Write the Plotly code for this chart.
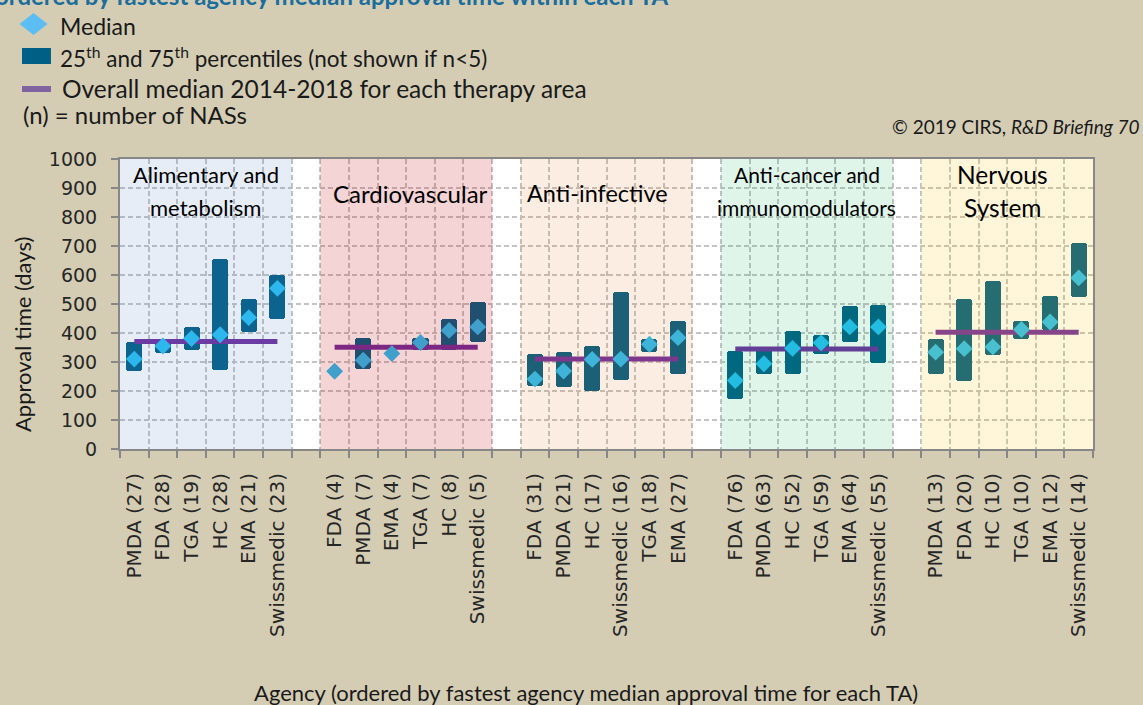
import plotly.graph_objects as go

# ---------------- data ----------------
group_lines = [["Alimentary and", "metabolism"], ["Cardiovascular"], ["Anti-infective"],
               ["Anti-cancer and", "immunomodulators"], ["Nervous", "System"]]

agencies_alim = ["PMDA (27)", "FDA (28)", "TGA (19)", "HC (28)", "EMA (21)", "Swissmedic (23)"]
median_alim = [310, 355, 381, 394, 453, 554]
p25_alim = [268, 330, 340, 272, 404, 449]
p75_alim = [369, 378, 419, 654, 517, 599]
overall_alim = 371

agencies_cardio = ["FDA (4)", "PMDA (7)", "EMA (4)", "TGA (7)", "HC (8)", "Swissmedic (5)"]
median_cardio = [268, 306, 329, 367, 409, 421]
p25_cardio = [None, 275, None, 340, 340, 369]
p75_cardio = [None, 384, None, 383, 450, 507]
overall_cardio = 351

agencies_infect = ["FDA (31)", "PMDA (21)", "HC (17)", "Swissmedic (16)", "TGA (18)", "EMA (27)"]
median_infect = [241, 269, 309, 310, 361, 384]
p25_infect = [218, 215, 200, 238, 334, 257]
p75_infect = [326, 336, 355, 540, 381, 443]
overall_infect = 310

agencies_cancer = ["FDA (76)", "PMDA (63)", "HC (52)", "TGA (59)", "EMA (64)", "Swissmedic (55)"]
median_cancer = [236, 294, 347, 366, 421, 421]
p25_cancer = [173, 257, 260, 328, 370, 295]
p75_cancer = [339, 342, 406, 394, 494, 498]
overall_cancer = 345

agencies_nerv = ["PMDA (13)", "FDA (20)", "HC (10)", "TGA (10)", "EMA (12)", "Swissmedic (14)"]
median_nerv = [334, 346, 352, 412, 438, 590]
p25_nerv = [258, 234, 323, 378, 409, 525]
p75_nerv = [379, 516, 579, 443, 526, 709]
overall_nerv = 403

y_ticks = [0, 100, 200, 300, 400, 500, 600, 700, 800, 900, 1000]

groups = [
    (agencies_alim, median_alim, p25_alim, p75_alim, overall_alim),
    (agencies_cardio, median_cardio, p25_cardio, p75_cardio, overall_cardio),
    (agencies_infect, median_infect, p25_infect, p75_infect, overall_infect),
    (agencies_cancer, median_cancer, p25_cancer, p75_cancer, overall_cancer),
    (agencies_nerv, median_nerv, p25_nerv, p75_nerv, overall_nerv),
]

# ---------------- styles ----------------
BG = "#D4CDB4"
BAR = "#005F86"
DIAM = "#28C0F5"
PURPLE = "#7030A0"
GRID = "#C4C4C4"
AXIS = "#878787"
overlays = [("#4F81BD", 0.14), ("#C00000", 0.17), ("#E26B0A", 0.12),
            ("#00B050", 0.12), ("#FFC000", 0.15)]
label_sizes = [22, 24, 23.5, 21, 24.5]
label_dx = [0, 0.15, -0.3, 0, -0.15]
SLOT_PER_GROUP = 7
N_SLOTS = 34

xs, labels, meds, los, his = [], [], [], [], []
for g, (ag, med, lo, hi, ov) in enumerate(groups):
    for i in range(len(ag)):
        xs.append(SLOT_PER_GROUP * g + i + 0.5)
        labels.append(ag[i])
        meds.append(med[i])
        los.append(lo[i])
        his.append(None if hi[i] is None else hi[i] - lo[i])

fig = go.Figure()
fig.add_trace(go.Bar(x=xs, y=his, base=los, width=0.56,
                     marker=dict(color=BAR, line=dict(width=0), cornerradius=3),
                     showlegend=False, hoverinfo="skip"))
for g, (ag, med, lo, hi, ov) in enumerate(groups):
    x0 = SLOT_PER_GROUP * g + 0.5
    x1 = SLOT_PER_GROUP * g + len(ag) - 0.5
    fig.add_trace(go.Scatter(x=[x0, x1], y=[ov, ov], mode="lines",
                             line=dict(color=PURPLE, width=5),
                             showlegend=False, hoverinfo="skip"))
fig.add_trace(go.Scatter(x=xs, y=meds, mode="markers",
                         marker=dict(symbol="diamond", size=13, color=DIAM, line=dict(width=0)),
                         showlegend=False, hoverinfo="skip"))

# translucent therapy-area panels over the data
shapes = []
for g, (col, op) in enumerate(overlays):
    shapes.append(dict(type="rect", xref="x", yref="y",
                       x0=SLOT_PER_GROUP * g, x1=SLOT_PER_GROUP * g + 6, y0=0, y1=1000,
                       fillcolor=col, opacity=op, line=dict(width=0), layer="above"))

# pixel -> paper helpers (plot area 120..1093 x, 159..449 y)
L, T, W, H = 120, 159, 973, 290
def px(x):
    return (x - L) / W
def py(y):
    return (T + H - y) / H

# manual legend marks
dcx, dcy, dhw, dhh = 33.5, 24, 14, 11
shapes.append(dict(type="path", xref="paper", yref="paper",
                   path=f"M {px(dcx-dhw)} {py(dcy)} L {px(dcx)} {py(dcy-dhh)} L {px(dcx+dhw)} {py(dcy)} L {px(dcx)} {py(dcy+dhh)} Z",
                   fillcolor="#5CBDF4", line=dict(width=0)))
shapes.append(dict(type="rect", xref="paper", yref="paper",
                   x0=px(22), x1=px(51), y0=py(64), y1=py(48),
                   fillcolor="#005F85", line=dict(width=0)))
shapes.append(dict(type="rect", xref="paper", yref="paper",
                   x0=px(22), x1=px(51), y0=py(92), y1=py(86),
                   fillcolor="#8064A2", line=dict(width=0)))

TXT = "#1A1A1A"
annotations = []
def ann(text, x, y, size, xanchor="left", family="Lato", color=TXT, **kw):
    annotations.append(dict(text=text, x=px(x), y=py(y), xref="paper", yref="paper",
                            xanchor=xanchor, yanchor="middle", showarrow=False,
                            font=dict(family=family, size=size, color=color), **kw))

ann("<b>ordered by fastest agency median approval time within each TA</b>", -7, -5, 24, color="#1B6E9C")
ann("Median", 58, 26, 23)
ann("25<sup>th</sup> and 75<sup>th</sup> percentiles (not shown if n&lt;5)", 58, 57, 22.5)
ann("Overall median 2014-2018 for each therapy area", 60, 88, 24.5)
ann("(n) = number of NASs", 21, 114, 24)
ann("© 2019 CIRS, <i>R&amp;D Briefing 70</i>", 1142, 126, 19, xanchor="right")
ann("Agency (ordered by fastest agency median approval time for each TA)", 586, 692, 22, xanchor="center")
ann("Approval time (days)", 22, 335, 22, xanchor="center", textangle=-90)

# therapy-area labels (one annotation per text line)
for g, lines in enumerate(group_lines):
    ypix_list = [174, 207] if len(lines) == 2 else [193]
    for line, ypix in zip(lines, ypix_list):
        annotations.append(dict(text=line, x=SLOT_PER_GROUP * g + 3 + label_dx[g],
                                y=(T + H - ypix) / H * 1000,
                                xref="x", yref="y", xanchor="center", yanchor="middle",
                                showarrow=False,
                                font=dict(family="Lato", size=label_sizes[g], color="#000000")))

fig.update_layout(
    width=1143, height=705,
    paper_bgcolor=BG, plot_bgcolor="#FFFFFF",
    margin=dict(l=L, r=1143 - L - W, t=T, b=705 - T - H, autoexpand=False),
    shapes=shapes, annotations=annotations, showlegend=False,
    bargap=0,
)
fig.update_xaxes(range=[0, N_SLOTS], tickmode="array", tickvals=xs, ticktext=labels,
                 tickangle=-90, ticks="", showgrid=False, zeroline=False,
                 tickfont=dict(family="DejaVu Sans", size=20, color="#262626"),
                 ticklabelstandoff=14,
                 showline=True, linecolor=AXIS, linewidth=2, mirror=True,
                 minor=dict(tickmode="array", tickvals=list(range(N_SLOTS + 1)),
                            ticks="outside", ticklen=7, tickwidth=2, tickcolor=AXIS,
                            showgrid=True, gridcolor=GRID, gridwidth=1.5, griddash="5px,3px"))
fig.update_yaxes(range=[0, 1000], tickmode="array", tickvals=y_ticks,
                 ticks="outside", ticklen=7, tickwidth=2, tickcolor=AXIS,
                 showgrid=True, gridcolor=GRID, gridwidth=1.5, griddash="5px,3px",
                 zeroline=False, showline=True, linecolor=AXIS, linewidth=2, mirror=True,
                 tickfont=dict(family="DejaVu Sans", size=19, color="#262626"),
                 ticklabelstandoff=10)

fig.write_html("out.html", config={"displayModeBar": False},
               post_script="document.body.style.margin='0';document.body.style.overflow='hidden';")
